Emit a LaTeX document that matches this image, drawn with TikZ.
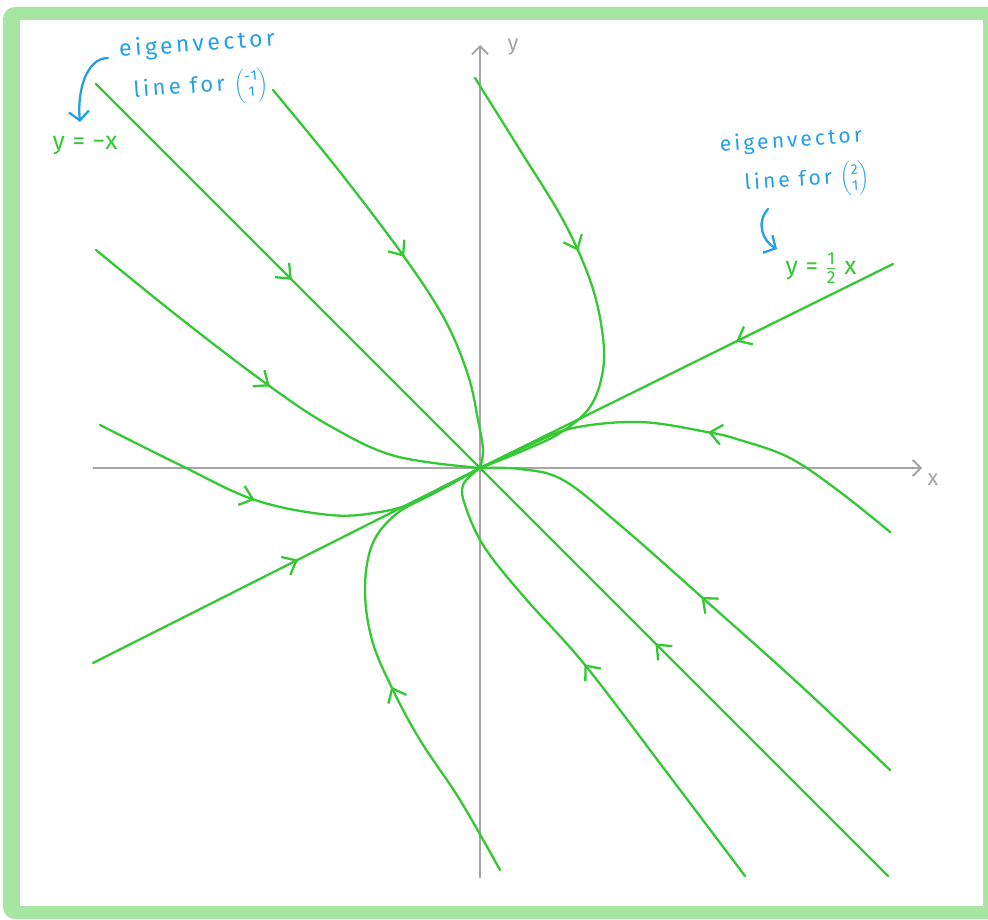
\documentclass[tikz,border=0pt]{standalone}
\usepackage{fontspec}
\usepackage{amsmath}
\newfontfamily\hand[LetterSpace=15]{Fira Sans}
\newfontfamily\handtight[LetterSpace=4]{Fira Sans}
\usetikzlibrary{arrows.meta,decorations.markings}
\definecolor{traj}{RGB}{52,200,52}
\definecolor{note}{RGB}{35,160,230}
\definecolor{axisgray}{RGB}{165,165,165}
\definecolor{framegreen}{RGB}{166,230,162}
\newcommand{\vecpar}[2]{{\fontsize{14}{16}\selectfont$\begin{pmatrix}\text{#1}\\ \text{#2}\end{pmatrix}$}}
\tikzset{
  traject/.style={traj,line width=2.3pt,line cap=round,line join=round},
  flowarrow/.style={postaction={decorate},decoration={markings,
     mark=at position #1 with {\arrow{Straight Barb[length=12pt,width=20pt,line width=2.3pt]}}}},
  axisline/.style={axisgray,line width=1.8pt,-{Straight Barb[length=8pt,width=16pt]}},
  axislab/.style={text=axisgray,font=\handtight\fontsize{22}{24}\selectfont},
  notetext/.style={text=note,font=\hand\fontsize{21}{23}\selectfont,inner sep=0pt},
  eqtext/.style={text=traj,font=\handtight\fontsize{25}{27}\selectfont,inner sep=0pt},
  notearrow/.style={note,line width=2.3pt,line cap=round,-{Straight Barb[length=9pt,width=20pt]}}
}
\begin{document}
\begin{tikzpicture}[x=1pt,y=-1pt]
\useasboundingbox (0,0) rectangle (988,920);
% frame
\fill[framegreen,rounded corners=12pt] (3,7) rectangle (1010,919);
\fill[white] (20,20) rectangle (983,906);

% axes
\coordinate (O) at (480,468);
\coordinate (xs) at (93,468);
\coordinate (xe) at (922,468);
\coordinate (ys) at (480,878);
\coordinate (ye) at (480,45);
\draw[axisline] (xs) -- (xe);
\draw[axisline] (ys) -- (ye);
\node[axislab] (xl) at (933,480) {x};
\node[axislab] (yl) at (513,47) {y};

% eigenvector line y = -x
\coordinate (a1) at (96,84);
\coordinate (a2) at (888,876);
\draw[traject,flowarrow=0.51] (a1) -- (O);
\draw[traject,flowarrow=0.57] (a2) -- (O);

% eigenvector line y = x/2
\coordinate (b1) at (93,663);
\coordinate (b2) at (893,264);
\draw[traject,flowarrow=0.53] (b1) -- (O);
\draw[traject,flowarrow=0.38] (b2) -- (O);

% curved trajectories
\draw[traject,flowarrow=0.41] plot[smooth,tension=0.6] coordinates
  {(475,78) (520,150) (563,220) (590,280) (602,330) (603,370) (590,407) (560,433) (520,452) (480,468)};
\draw[traject,flowarrow=0.47] plot[smooth,tension=0.6] coordinates
  {(890,532) (840,492) (790,458) (740,440) (707,432) (640,422) (573,428) (530,445) (480,468)};
\draw[traject,flowarrow=0.43] plot[smooth,tension=0.6] coordinates
  {(500,870) (460,800) (420,740) (392,688) (372,640) (365,590) (372,545) (395,515) (430,495) (480,468)};
\draw[traject,flowarrow=0.42] plot[smooth,tension=0.6] coordinates
  {(100,425) (180,465) (255,500) (330,515) (380,512) (420,500) (480,468)};
\draw[traject,flowarrow=0.49] plot[smooth,tension=0.6] coordinates
  {(96,250) (180,318) (268,385) (330,426) (395,456) (480,468)};
\draw[traject,flowarrow=0.48] plot[smooth,tension=0.6] coordinates
  {(273,90) (340,172) (405,258) (445,320) (468,375) (478,420) (483,450) (480,468)};
\draw[traject,flowarrow=0.49] plot[smooth,tension=0.6] coordinates
  {(890,770) (800,685) (705,600) (620,525) (563,480) (520,469) (480,468)};
\draw[traject,flowarrow=0.52] plot[smooth,tension=0.6] coordinates
  {(745,876) (665,770) (585,665) (525,598) (485,548) (466,508) (463,485) (480,468)};

% annotations left
\node[notetext,font=\hand\fontsize{23}{25}\selectfont,rotate=4] (ev1) at (197,45) {eigenvector};
\node[notetext,font=\hand\fontsize{22}{24}\selectfont,rotate=4] (lf1) at (201,89) {line for \vecpar{-1}{1}};
\coordinate (la1) at (108,58);
\coordinate (la2) at (80,122);
\draw[notearrow] (la1) .. controls (86,58) and (77,92) .. (la2);
\node[eqtext] (eq1) at (85,146) {y = −x};

% annotations right
\node[notetext,rotate=4] (ev2) at (791,141) {eigenvector};
\node[notetext,rotate=4] (lf2) at (807,182) {line for \vecpar{2}{1}};
\coordinate (ra1) at (768,209);
\coordinate (ra2) at (777,249);
\draw[notearrow] (ra1) .. controls (755,224) and (764,242) .. (ra2);
\node[eqtext] (eq2) at (821,268) {y = $\genfrac{}{}{}{1}{\text{1}}{\text{2}}$ x};
\end{tikzpicture}
\end{document}
